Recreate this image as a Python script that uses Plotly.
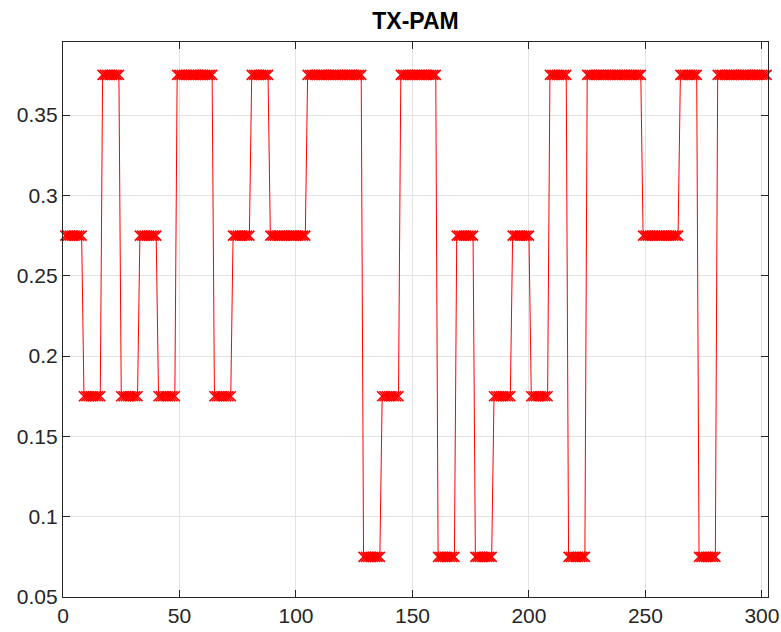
import plotly.graph_objects as go

# PAM symbol levels (each held for 8 samples)
symbols = [0.275, 0.175, 0.375, 0.175, 0.275, 0.175, 0.375, 0.375, 0.175, 0.275,
           0.375, 0.275, 0.275, 0.375, 0.375, 0.375, 0.075, 0.175, 0.375, 0.375,
           0.075, 0.275, 0.075, 0.175, 0.275, 0.175, 0.375, 0.075, 0.375, 0.375,
           0.375, 0.275, 0.275, 0.375, 0.075, 0.375, 0.375, 0.375]
samples_per_symbol = 8
y_vals = [s for s in symbols for _ in range(samples_per_symbol)]
x_vals = list(range(1, len(y_vals) + 1))

x_ticks = [0, 50, 100, 150, 200, 250, 300]
y_ticks = [0.05, 0.1, 0.15, 0.2, 0.25, 0.3, 0.35]
y_tick_labels = ["0.05", "0.1", "0.15", "0.2", "0.25", "0.3", "0.35"]

axis_col = "#262626"
grid_col = "#e3e3e3"
font_fam = "Liberation Sans, Arial, Helvetica, sans-serif"

fig = go.Figure()
fig.add_trace(go.Scatter(
    x=x_vals, y=y_vals, mode="lines+markers",
    line=dict(color="#ff0000", width=1),
    marker=dict(symbol="x-thin-open", size=10, color="#ff0000",
                line=dict(color="#ff0000", width=1.6)),
    cliponaxis=False, showlegend=False,
))

fig.update_layout(
    width=781, height=632,
    margin=dict(l=63, r=13, t=42, b=35, autoexpand=False),
    paper_bgcolor="white", plot_bgcolor="white",
    font=dict(family=font_fam, size=21, color=axis_col),
    title=dict(text="<b>TX-PAM</b>", x=(63 + 768) / 2 / 781, xanchor="center",
               y=1 - 21 / 632, yanchor="middle",
               font=dict(size=23, color="#000000", family=font_fam)),
)
fig.update_xaxes(
    range=[0, 302.6], tickvals=x_ticks, ticks="inside", ticklen=7,
    tickcolor=axis_col, showline=True, linecolor=axis_col, linewidth=1.2,
    mirror="ticks", showgrid=True, gridcolor=grid_col, gridwidth=1,
    zeroline=False, tickfont=dict(size=21, color=axis_col), automargin=False,
)
fig.update_yaxes(
    range=[0.05, 0.3955], tickvals=y_ticks, ticktext=y_tick_labels,
    ticks="inside", ticklen=7, tickcolor=axis_col, showline=True,
    linecolor=axis_col, linewidth=1.2, mirror="ticks", showgrid=True,
    gridcolor=grid_col, gridwidth=1, zeroline=False,
    tickfont=dict(size=21, color=axis_col), automargin=False,
)

fig.write_html("out.html")
